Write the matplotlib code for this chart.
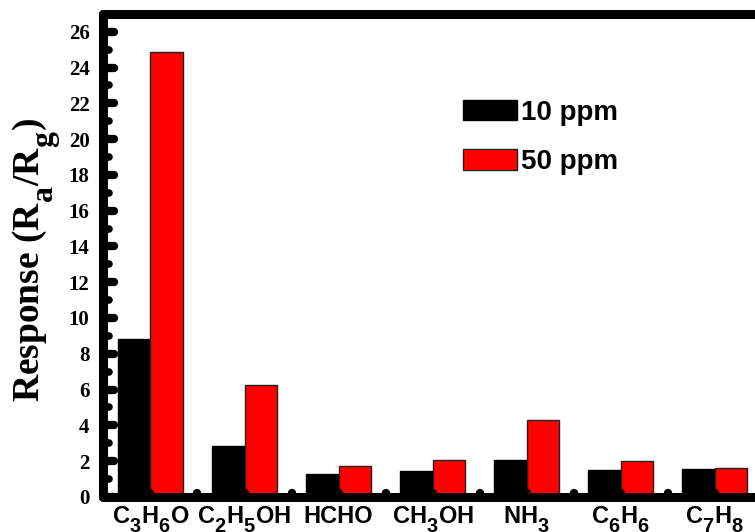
import matplotlib
matplotlib.use("Agg")
import matplotlib.pyplot as plt
import matplotlib._mathtext as mathtext_internal
import numpy as np
from matplotlib.markers import MarkerStyle
from matplotlib.ticker import FixedLocator, MultipleLocator

# subscripts in the original are almost full size and sit low
mathtext_internal.SHRINK_FACTOR = 0.85
mathtext_internal.FontConstantsBase.sub1 = 0.7

# digits in subscripts use rm (sans), \mathbf letters use serif bold
plt.rcParams['mathtext.fontset'] = 'custom'
plt.rcParams['mathtext.rm'] = 'Liberation Sans:bold'
plt.rcParams['mathtext.it'] = 'Liberation Sans:bold'
plt.rcParams['mathtext.bf'] = 'Liberation Serif:bold'

# Data
gases = ['C$_3$H$_6$O', 'C$_2$H$_5$OH', 'HCHO', 'CH$_3$OH', 'NH$_3$', 'C$_6$H$_6$', 'C$_7$H$_8$']
resp_10 = [8.82, 2.85, 1.27, 1.45, 2.05, 1.49, 1.57]
resp_50 = [24.85, 6.26, 1.73, 2.07, 4.27, 2.03, 1.60]
series_labels = ['10 ppm', '50 ppm']

x = np.arange(len(gases))
w = 0.345

fig = plt.figure(figsize=(7.55, 5.32), dpi=100)
ax = fig.add_axes([0.137, 0.066, 0.872, 0.908])

ax.bar(x - w / 2, resp_10, w, color='black', edgecolor='black', linewidth=1, label=series_labels[0])
ax.bar(x + w / 2, resp_50, w, color='red', edgecolor='#222222', linewidth=1, label=series_labels[1])

ax.set_xlim(-0.5, len(gases) - 0.5)
ax.set_ylim(0, 27)

for s in ax.spines.values():
    s.set_linewidth(6.5)
    s.set_capstyle('round')

ax.yaxis.set_major_locator(MultipleLocator(2))
ax.yaxis.set_minor_locator(MultipleLocator(1))
ax.xaxis.set_major_locator(FixedLocator(x))
ax.xaxis.set_minor_locator(FixedLocator(x[:-1] + 0.5))
ax.set_xticklabels(gases, fontfamily='Liberation Sans', fontweight='bold', fontsize=17)

ax.tick_params(axis='y', which='major', direction='in', length=8, width=6, pad=10)
ax.tick_params(axis='y', which='minor', direction='in', length=4.5, width=5.5)
ax.tick_params(axis='x', which='both', direction='in', length=3, width=6, pad=6)

for lbl in ax.get_yticklabels():
    lbl.set_fontfamily('Liberation Serif')
    lbl.set_fontweight('bold')
    lbl.set_fontsize(15)

# round tick ends, like the original (1 = tick right, 2 = tick up)
fig.canvas.draw()
for axis, mark in ((ax.yaxis, 1), (ax.xaxis, 2)):
    for t in axis.get_major_ticks() + axis.get_minor_ticks():
        t.tick1line.set_marker(MarkerStyle(mark, capstyle='round'))
        t.tick2line.set_visible(False)

ax.set_ylabel(r'Response (R$_\mathbf{a}$/R$_\mathbf{g}$)', fontfamily='Liberation Serif',
              fontweight='bold', fontsize=27)
ax.yaxis.set_label_coords(-0.062, 0.49)

ax.legend(loc='upper left', bbox_to_anchor=(0.508, 0.874), frameon=False,
          prop={'family': 'Liberation Sans', 'weight': 'bold', 'size': 20},
          handlelength=1.95, handleheight=0.76, handletextpad=0.15, labelspacing=0.85)

fig.savefig('out.png', dpi=100)
